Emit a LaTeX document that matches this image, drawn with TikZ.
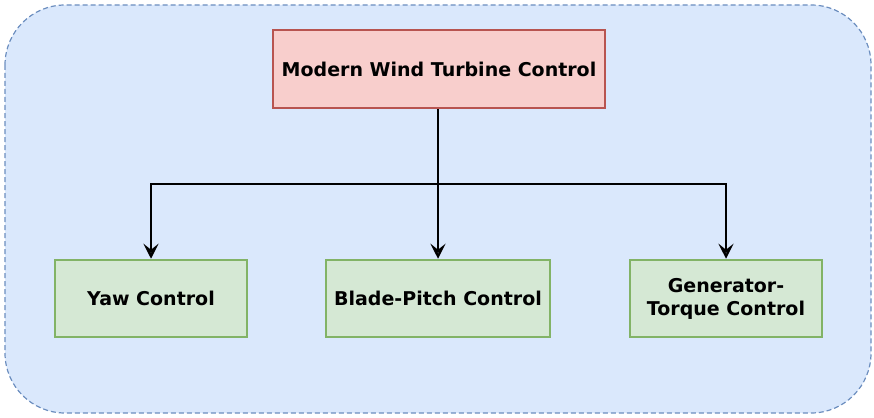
\documentclass[tikz,border=0pt]{standalone}
\usepackage{fontspec}
\setmainfont{DejaVu Sans}
\usetikzlibrary{arrows.meta}
\definecolor{bgfill}{HTML}{DAE8FC}
\definecolor{bgdraw}{HTML}{6C8EBF}
\definecolor{redfill}{HTML}{F8CECC}
\definecolor{reddraw}{HTML}{B85450}
\definecolor{grnfill}{HTML}{D5E8D4}
\definecolor{grndraw}{HTML}{82B366}
\tikzset{
  topbox/.style={draw=reddraw, fill=redfill, line width=2.5pt, minimum width=332pt, minimum height=78pt, inner sep=0pt, font=\bfseries\fontsize{19}{23}\selectfont, align=center},
  leafbox/.style={draw=grndraw, fill=grnfill, line width=2.5pt, minimum height=77pt, inner sep=0pt, font=\bfseries\fontsize{19}{23}\selectfont, align=center},
  conn/.style={line width=2.5pt, -{Stealth[open,length=15pt,width=15pt,inset=6pt]}},
}
\begin{document}
\begin{tikzpicture}[x=1pt,y=-1pt]
\useasboundingbox (0,0) rectangle (874,417);
\path[draw=bgdraw, fill=bgfill, dash pattern=on 5pt off 3pt, line width=1.2pt, rounded corners=60pt] (5,5) rectangle (871,413);
\node[topbox] (top) at (439,69) {Modern Wind Turbine Control};
\node[leafbox, minimum width=192pt] (yaw) at (151,298.5) {Yaw Control};
\node[leafbox, minimum width=224pt] (blade) at (438,298.5) {Blade-Pitch Control};
\node[leafbox, minimum width=192pt] (gen) at (726,298.5) {Generator-\\Torque Control};
\coordinate (split) at (438,184);
\draw[line width=2.5pt] (top.south -| split) -- (split);
\draw[conn] (split) -| (yaw.north);
\draw[conn] (split) -- (blade.north);
\draw[conn] (split) -| (gen.north);
\end{tikzpicture}
\end{document}
